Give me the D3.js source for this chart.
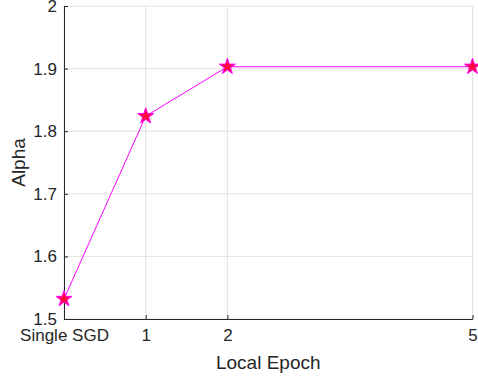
<!DOCTYPE html>
<html>
<head>
<meta charset="utf-8">
<script src="https://cdn.jsdelivr.net/npm/d3@7"></script>
<style>
  body { margin: 0; background: #fff; }
  text { font-family: "Liberation Sans", Arial, sans-serif; }
</style>
</head>
<body>
<script>
// data
const epochLabels = ["Single SGD", "1", "2", "5"]
const epochPos = [0, 1, 2, 5]
const alphaValues = [1.532, 1.824, 1.903, 1.903]
const yTicks = [1.5, 1.6, 1.7, 1.8, 1.9, 2]

const w = 478
const h = 381
const padL = 64, padR = 472.5, padT = 6, padB = 319

const svg = d3.select("body")
  .append("svg")
  .attr("width", w)
  .attr("height", h)

const xScale = d3.scaleLinear().domain([0, 5]).range([padL, padR])
const yScale = d3.scaleLinear().domain([1.5, 2]).range([padB, padT])

// grid
svg.append("g").selectAll("line")
  .data(epochPos)
  .enter().append("line")
  .attr("x1", d => xScale(d)).attr("x2", d => xScale(d))
  .attr("y1", padT).attr("y2", padB)
  .attr("stroke", "#e3e3e3").attr("stroke-width", 1)

svg.append("g").selectAll("line")
  .data(yTicks)
  .enter().append("line")
  .attr("x1", padL).attr("x2", padR)
  .attr("y1", d => yScale(d)).attr("y2", d => yScale(d))
  .attr("stroke", "#e3e3e3").attr("stroke-width", 1)

// axes
const xAxis = d3.axisBottom(xScale)
  .tickValues(epochPos)
  .tickFormat((d, i) => epochLabels[i])
  .tickSizeInner(-4).tickSizeOuter(0).tickPadding(10)
const gx = svg.append("g")
  .attr("transform", "translate(0," + padB + ")")
  .call(xAxis)

const yAxis = d3.axisLeft(yScale)
  .tickValues(yTicks)
  .tickFormat(d3.format("~g"))
  .tickSizeInner(-4).tickSizeOuter(0).tickPadding(7)
const gy = svg.append("g")
  .attr("transform", "translate(" + padL + ",0)")
  .call(yAxis)

;[gx, gy].forEach(g => {
  g.select(".domain").attr("stroke", "#262626").attr("stroke-width", 1)
  g.selectAll(".tick line").attr("stroke", "#262626")
  g.selectAll(".tick text").attr("fill", "#262626").style("font-size", "17px")
})

// labels
svg.append("text")
  .attr("x", (padL + padR) / 2)
  .attr("y", 369)
  .attr("text-anchor", "middle")
  .attr("fill", "#262626")
  .style("font-size", "19px")
  .text("Local Epoch")

svg.append("text")
  .attr("transform", "translate(25," + ((padT + padB) / 2) + ") rotate(-90)")
  .attr("text-anchor", "middle")
  .attr("fill", "#262626")
  .style("font-size", "19px")
  .text("Alpha")

// line
const line = d3.line()
  .x((d, i) => xScale(epochPos[i]))
  .y(d => yScale(d))

svg.append("path")
  .datum(alphaValues)
  .attr("d", line)
  .attr("fill", "none")
  .attr("stroke", "#ff00ff")
  .attr("stroke-width", 1)

// star markers
const star = d3.symbol().type(d3.symbolStar).size(80)
svg.append("g").selectAll("path")
  .data(alphaValues)
  .enter().append("path")
  .attr("d", star)
  .attr("transform", (d, i) => "translate(" + xScale(epochPos[i]) + "," + yScale(d) + ")")
  .attr("fill", "#ff0a3c")
  .attr("stroke", "#ff00ff")
  .attr("stroke-width", 1)
</script>
</body>
</html>
